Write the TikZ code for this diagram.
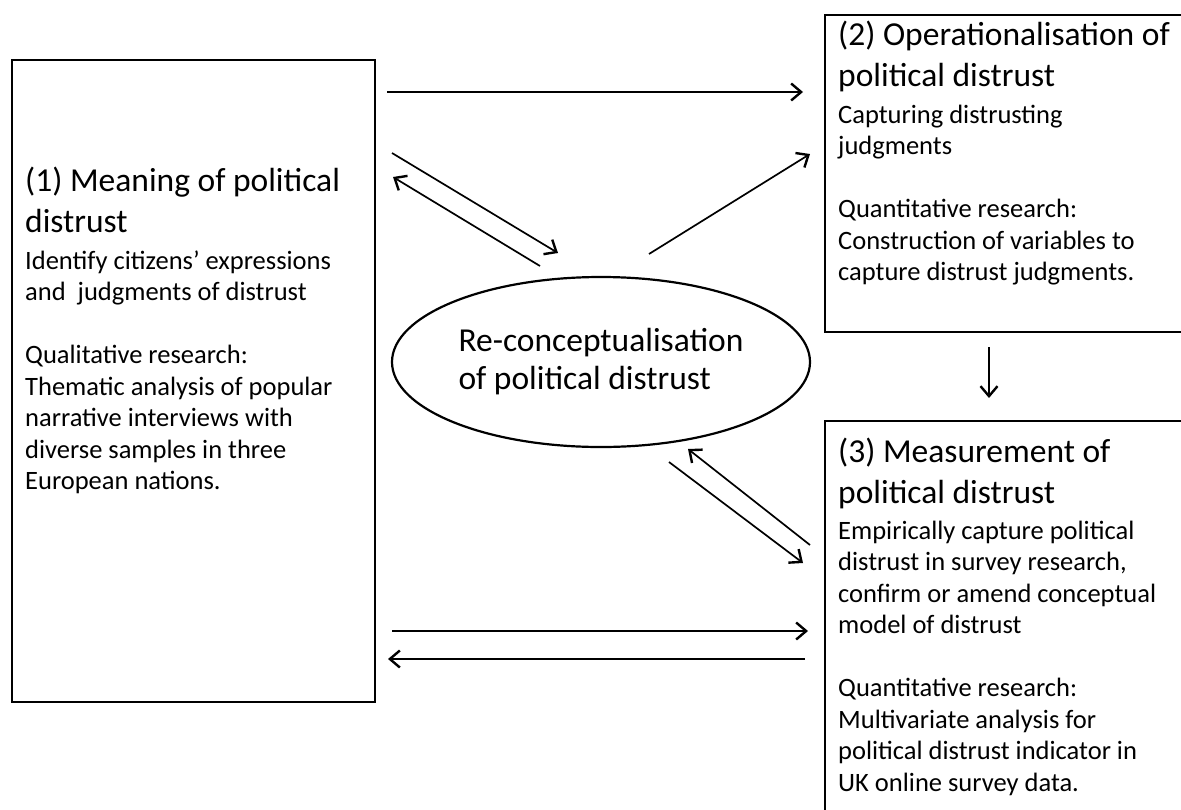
\documentclass[tikz,border=0pt]{standalone}
\usepackage{fontspec}
\setmainfont{Carlito}
\usepackage{tikz}
\usetikzlibrary{arrows.meta,shapes.geometric}
\newcommand{\hd}{\fontsize{33.5}{41}\selectfont\spaceskip=0pt\xspaceskip=0pt\relax}
\newcommand{\ov}{\fontsize{33.5}{38}\selectfont\spaceskip=0pt\xspaceskip=0pt\relax}
\newcommand{\sm}{\fontsize{26.5}{31.5}\selectfont\spaceskip=0pt\xspaceskip=0pt\relax}
\begin{document}
\begin{tikzpicture}[
  x=1pt,y=-1pt,
  panel/.style={draw,line width=2.6pt,outer sep=0pt,inner sep=0pt},
  txt/.style={anchor=north west,align=left,text width=355pt,inner sep=0pt},
  oval/.style={ellipse,draw,line width=2.2pt,outer sep=0pt,inner sep=0pt,align=left,font=\ov},
  arr/.style={-{Straight Barb[length=10pt,width=17pt,line width=2.4pt]},line width=1.7pt}
]
\useasboundingbox (0,0) rectangle (1181,809);
\clip (0,0) rectangle (1181,809);

\node[panel,minimum width=363pt,minimum height=642pt] (meaning) at (193.5,381) {};
\node[panel,minimum width=375pt,minimum height=317pt] (oper) at (1012.5,173.5) {};
\node[panel,minimum width=375pt,minimum height=409pt] (meas) at (1012.5,625.5) {};
\node[oval,minimum width=418pt,minimum height=170pt] (reconc) at (601,362) {\ov Re-conceptualisation\\of political distrust};

\node[txt] (meaningtxt) at (25,167) {\hd (1) Meaning of political\\distrust\par\vspace{5pt}
  \sm Identify citizens’ expressions\\and\ \ judgments of distrust\\[31.5pt]
  Qualitative research:\\Thematic analysis of popular\\narrative interviews with\\diverse samples in three\\European nations.\par};
\node[txt] (opertxt) at (838,21) {\hd (2) Operationalisation of\\political distrust\par\vspace{5pt}
  \sm Capturing distrusting\\judgments\\[31.5pt]
  Quantitative research:\\Construction of variables to\\capture distrust judgments.\par};
\node[txt] (meastxt) at (838,438) {\hd (3) Measurement of\\political distrust\par\vspace{4pt}
  \sm Empirically capture political\\distrust in survey research,\\confirm or amend conceptual\\model of distrust\\[31.5pt]
  Quantitative research:\\Multivariate analysis for\\political distrust indicator in\\UK online survey data.\par};

\draw[arr] ([shift={(12pt,-32pt)}]meaning.north east) -- ([shift={(-22pt,-77pt)}]oper.north west);
\draw[arr] ([shift={(17pt,-93pt)}]meaning.north east) -- ([shift={(-43pt,24pt)}]reconc.north);
\draw[arr] ([shift={(-61pt,11pt)}]reconc.north) -- ([shift={(18pt,-117pt)}]meaning.north east);
\draw[arr] ([shift={(48pt,23pt)}]reconc.north) -- ([shift={(-15pt,-139pt)}]oper.north west);
\draw[arr] ([shift={(164pt,-15pt)}]oper.south west) -- ([shift={(164pt,23pt)}]meas.north west);
\draw[arr] ([shift={(-15pt,-124pt)}]meas.north west) -- ([shift={(87pt,-2pt)}]reconc.south);
\draw[arr] ([shift={(68pt,-15pt)}]reconc.south) -- ([shift={(-22pt,-142pt)}]meas.north west);
\draw[arr] ([shift={(17pt,71pt)}]meaning.south east) -- ([shift={(-17pt,-210pt)}]meas.north west);
\draw[arr] ([shift={(-20pt,-238pt)}]meas.north west) -- ([shift={(13pt,43pt)}]meaning.south east);
\end{tikzpicture}
\end{document}
